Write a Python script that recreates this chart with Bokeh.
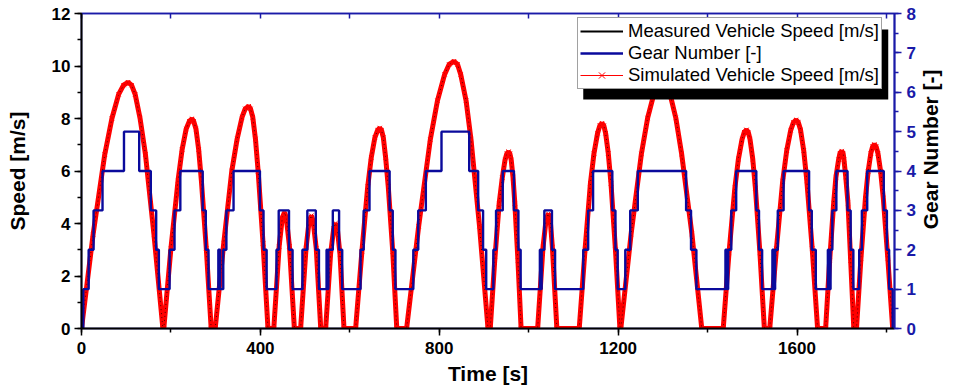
import math
from bokeh.plotting import figure
from bokeh.models import (Range1d, LinearAxis, SingleIntervalTicker, Legend,
                          LegendItem, BoxAnnotation)
from bokeh.embed import file_html
from bokeh.resources import INLINE

# ---------------- data ----------------
time_s = [
    0, 26, 52, 68, 83, 94, 104, 112, 120, 131, 143, 162, 182,
    184, 200, 216, 225, 234, 241, 247, 251, 256, 262, 268, 279, 290,
    299, 318, 336, 348, 359, 366, 374, 378, 383, 389, 395, 406, 417,
    430, 442, 449, 454, 458, 465, 476,
    490, 502, 509, 514, 518, 525, 535,
    546, 557, 564, 568, 572, 578, 587,
    613, 627, 640, 648, 656, 662, 667, 671, 675, 680, 686, 696, 705,
    727, 754, 780, 796, 812, 822, 833, 841, 848, 860, 871, 890, 909,
    914, 924, 934, 941, 947, 951, 955, 958, 961, 965, 969, 976, 983,
    1020, 1032, 1039, 1044, 1048, 1053, 1063,
    1113, 1126, 1138, 1146, 1154, 1159, 1164, 1168, 1172, 1178, 1184, 1194, 1204,
    1206, 1229, 1252, 1266, 1280, 1289, 1298, 1307, 1316, 1329, 1342, 1365, 1387,
    1435, 1448, 1461, 1469, 1477, 1482, 1487, 1491, 1495, 1501, 1507, 1517, 1527,
    1539, 1554, 1568, 1577, 1586, 1592, 1598, 1603, 1608, 1615, 1622, 1634, 1646,
    1664, 1673, 1682, 1687, 1693, 1696, 1700, 1703, 1705, 1709, 1714, 1720, 1727,
    1733, 1743, 1753, 1759, 1765, 1769, 1773, 1777, 1781, 1787, 1793, 1803, 1814,
]
measured_speed = [
    0, 3.59, 6.63, 8.00, 8.92, 9.27, 9.38, 9.27, 8.92, 8.00, 6.63, 3.59, 0,
    0, 3.06, 5.65, 6.82, 7.60, 7.89, 7.99, 7.89, 7.60, 6.82, 5.65, 3.06, 0,
    0, 3.24, 5.99, 7.22, 8.05, 8.37, 8.47, 8.37, 8.05, 7.22, 5.99, 3.24, 0,
    0, 3.13, 4.21, 4.43, 4.21, 3.13, 0,
    0, 3.04, 4.09, 4.30, 4.09, 3.04, 0,
    0, 2.84, 3.81, 4.01, 3.81, 2.84, 0,
    0, 2.93, 5.40, 6.52, 7.27, 7.55, 7.64, 7.55, 7.27, 6.52, 5.40, 2.93, 0,
    0, 3.90, 7.20, 8.68, 9.68, 10.06, 10.18, 10.06, 9.68, 8.68, 7.20, 3.90, 0,
    0, 2.58, 4.77, 5.75, 6.41, 6.66, 6.74, 6.66, 6.41, 5.75, 4.77, 2.58, 0,
    0, 3.09, 4.16, 4.37, 4.16, 3.09, 0,
    0, 3.00, 5.53, 6.67, 7.44, 7.73, 7.82, 7.73, 7.44, 6.67, 5.53, 3.00, 0,
    0, 3.60, 6.65, 8.02, 8.94, 9.29, 9.40, 9.29, 8.94, 8.02, 6.65, 3.60, 0,
    0, 2.90, 5.35, 6.46, 7.20, 7.48, 7.57, 7.48, 7.20, 6.46, 5.35, 2.90, 0,
    0, 3.04, 5.62, 6.78, 7.56, 7.85, 7.95, 7.85, 7.56, 6.78, 5.62, 3.04, 0,
    0, 2.59, 4.78, 5.77, 6.43, 6.68, 6.76, 6.68, 6.43, 5.77, 4.78, 2.59, 0,
    0, 2.68, 4.96, 5.98, 6.67, 6.93, 7.01, 6.93, 6.67, 5.98, 4.96, 2.68, 0,
]
simulated_speed = list(measured_speed)

gear_time = [
    0, 4, 16, 27, 47, 95, 129, 155, 167, 173, 197, 208, 221, 271, 278, 284,
    306, 310, 317, 324, 340, 399, 407, 414, 436, 441, 464, 472, 494, 505,
    524, 531, 548, 550, 552, 562, 576, 583, 624, 631, 644, 689, 696, 702,
    742, 753, 770, 805, 867, 887, 898, 905, 921, 927, 942, 967, 977, 982,
    1025, 1027, 1029, 1035, 1052, 1059, 1122, 1133, 1144, 1187, 1194, 1199,
    1216, 1227, 1244, 1352, 1363, 1375, 1440, 1443, 1446, 1453, 1464, 1509,
    1515, 1522, 1545, 1548, 1551, 1557, 1570, 1627, 1633, 1642, 1669, 1672,
    1675, 1679, 1688, 1713, 1720, 1726, 1739, 1745, 1757, 1794, 1801, 1806,
    1814,
]
gear_number = [
    0, 1, 2, 3, 4, 5, 4, 3, 2, 1, 2, 3, 4, 3, 2, 1,
    2, 1, 2, 3, 4, 3, 2, 1, 2, 3, 2, 1, 2, 3,
    2, 1, 2, 1, 2, 3, 2, 1, 2, 3, 4, 3, 2, 1,
    2, 3, 4, 5, 4, 3, 2, 1, 2, 3, 4, 3, 2, 1,
    2, 1, 2, 3, 2, 1, 2, 3, 4, 3, 2, 1,
    2, 3, 4, 3, 2, 1, 2, 1, 2, 3, 4, 3,
    2, 1, 2, 1, 2, 3, 4, 3, 2, 1, 2, 1,
    2, 3, 4, 3, 2, 1, 2, 3, 4, 3, 2, 1,
    0,
]

# ---------------- styling ----------------
FONT = "Liberation Sans"
BLUE_LINE = "#0a0a9c"
BLUE_AXIS = "#1a1aa8"

p = figure(width=956, height=389, output_backend="svg", toolbar_location=None,
           x_range=Range1d(0, 1818), y_range=Range1d(0, 12),
           min_border_left=81, min_border_right=57, min_border_top=13,
           min_border_bottom=61)
p.xgrid.visible = False
p.ygrid.visible = False
p.outline_line_color = BLUE_AXIS
p.outline_line_width = 1.5
p.extra_y_ranges = {"gear": Range1d(0, 8)}

# curves
r_meas = p.line(time_s, measured_speed, line_color="black", line_width=2)
r_sim_thin = p.line(time_s, simulated_speed, line_color="red", line_width=1)
r_band = p.line(time_s, simulated_speed, line_color="#ff0000", line_width=5)
r_dots = p.line(time_s, measured_speed, line_color="black", line_width=1,
                line_dash="1 3", line_alpha=0.7)
r_x = p.scatter(time_s, simulated_speed, marker="x", size=6,
                line_color="red", line_width=1)
r_gear = p.step(gear_time, gear_number, mode="after", y_range_name="gear",
                line_color=BLUE_LINE, line_width=2.4)

# axes
xa = p.xaxis[0]
xa.ticker = SingleIntervalTicker(interval=400, num_minor_ticks=2)
xa.axis_label = "Time [s]"
ya = p.yaxis[0]
ya.ticker = SingleIntervalTicker(interval=2, num_minor_ticks=2)
ya.axis_label = "Speed [m/s]"
for ax in (xa, ya):
    ax.axis_line_color = "black"
    ax.axis_line_width = 2
    ax.major_tick_line_color = "black"
    ax.minor_tick_line_color = "black"
    ax.major_tick_line_width = 1.5
    ax.minor_tick_line_width = 1.5
    ax.major_tick_in = 0
    ax.minor_tick_in = 0
    ax.major_tick_out = 7
    ax.minor_tick_out = 4
    ax.major_label_text_font = FONT
    ax.major_label_text_font_style = "bold"
    ax.major_label_text_font_size = "17px"
    ax.major_label_text_color = "black"
    ax.axis_label_text_font = FONT
    ax.axis_label_text_font_style = "bold"
    ax.axis_label_text_font_size = "21px"
    ax.axis_label_text_color = "black"
xa.major_label_standoff = 6
xa.axis_label_standoff = 5
ya.major_label_standoff = 4
ya.axis_label_standoff = 20

GEAR_TITLE = "Gear Number [-]"
ra = LinearAxis(y_range_name="gear",
                ticker=SingleIntervalTicker(interval=1, num_minor_ticks=2))
ra.axis_line_color = BLUE_AXIS
ra.axis_line_width = 2
ra.major_tick_line_color = BLUE_AXIS
ra.minor_tick_line_color = BLUE_AXIS
ra.major_tick_line_width = 1.5
ra.minor_tick_line_width = 1.5
ra.major_tick_in = 0
ra.minor_tick_in = 0
ra.major_tick_out = 7
ra.minor_tick_out = 4
ra.major_label_standoff = 5
ra.major_label_text_font = FONT
ra.major_label_text_font_style = "bold"
ra.major_label_text_font_size = "17px"
ra.major_label_text_color = BLUE_AXIS
ra.axis_label_text_font = FONT
ra.axis_label_text_font_style = "bold"
ra.axis_label_text_font_size = "21px"
ra.axis_label_text_color = "black"
ra.axis_label_standoff = 12
# title reads bottom to top; it starts at the bottom of the axis and is
# lifted with non-breaking spaces to sit where the reference shows it
try:
    ra.axis_label_align = "start"
    ra.axis_label_orientation = math.pi / 2
    ra.axis_label = "\u00a0" * 17 + GEAR_TITLE
except Exception:
    ra.axis_label_orientation = "vertical"
    ra.axis_label = GEAR_TITLE
p.add_layout(ra, "right")

ta = LinearAxis(ticker=SingleIntervalTicker(interval=200, num_minor_ticks=0))
ta.axis_line_color = BLUE_AXIS
ta.axis_line_width = 1.5
ta.major_tick_line_color = BLUE_AXIS
ta.major_tick_line_width = 1.5
ta.major_tick_in = 5
ta.major_tick_out = 0
ta.minor_tick_line_color = None
ta.major_label_text_font_size = "0px"
ta.major_label_text_alpha = 0
ta.major_label_standoff = 0
p.add_layout(ta, "above")

# legend with drop shadow
shadow = BoxAnnotation(left=1122, right=1804, top=11.39, bottom=8.72,
                       fill_color="black", fill_alpha=1, line_color=None)
p.add_layout(shadow)

legend = Legend(items=[
    LegendItem(label="Measured Vehicle Speed [m/s]", renderers=[r_meas]),
    LegendItem(label="Gear Number [-]", renderers=[r_gear]),
    LegendItem(label="Simulated Vehicle Speed [m/s]", renderers=[r_sim_thin, r_x]),
], location=(496, 239))
legend.label_text_font = FONT
legend.label_text_font_size = "18.5px"
legend.label_text_color = "black"
legend.glyph_width = 43
legend.glyph_height = 22
legend.label_height = 22
legend.label_standoff = 5
legend.spacing = 0
legend.padding = 2
legend.margin = 0
legend.border_line_color = "#444444"
legend.border_line_width = 1
legend.background_fill_color = "white"
legend.background_fill_alpha = 1
p.add_layout(legend)

open("out.html", "w").write(file_html(p, INLINE))
